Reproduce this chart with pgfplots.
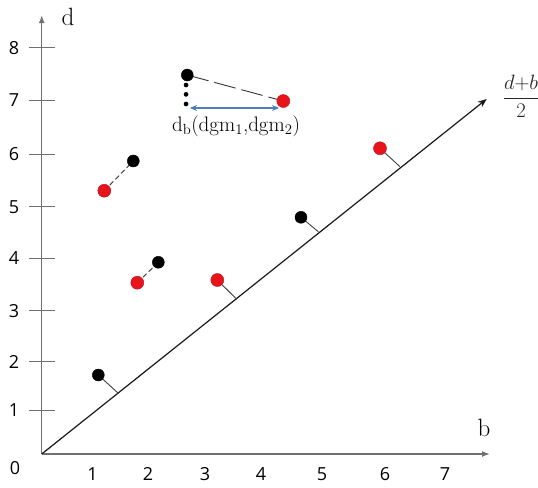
\documentclass[border=0pt]{standalone}
\usepackage{fontspec}
\usepackage{pgfplots}
\pgfplotsset{compat=1.18}
\usetikzlibrary{arrows.meta}
\newfontfamily\tickfont{Open Sans}
\definecolor{axisgray}{HTML}{707070}
\definecolor{ptred}{HTML}{E8141B}
\definecolor{arrblue}{HTML}{4F7FB8}
\begin{document}
\begin{tikzpicture}
\begin{axis}[
  x=57pt, y=52pt,
  xmin=0, xmax=7.865, ymin=0, ymax=8.44,
  axis lines=left,
  clip=false,
  axis line style={draw=axisgray, line width=1.4pt, -{Latex[length=8pt,width=6pt]}},
  xtick={0.891,1.865,2.865,3.847,4.918,6.023,7.075},
  xticklabels={1,2,3,4,5,6,7},
  ytick={0.846,1.775,2.756,3.769,4.756,5.769,6.808,7.813},
  yticklabels={1,2,3,4,5,6,7,8},
  xtick style={draw=none},
  ytick style={draw=axisgray, line width=0.9pt},
  tick align=center,
  major tick length=26pt,
  xticklabel style={font=\tickfont\fontsize{18}{20}\selectfont, text=black, anchor=north, yshift=3pt},
  yticklabel style={font=\tickfont\fontsize{18}{20}\selectfont, text=black, anchor=east, xshift=-6pt},
]
% diagonal
\addplot[black!90, line width=1.2pt, -{Stealth[length=9pt,width=7pt]}] coordinates {(0,0) (7.807,6.827)};
% perpendicular feet
\addplot[black!75, line width=0.9pt] coordinates {(0.993,1.519) (1.344,1.167)};
\addplot[black!75, line width=0.9pt] coordinates {(3.081,3.346) (3.421,2.975)};
\addplot[black!75, line width=0.9pt] coordinates {(4.549,4.552) (4.853,4.275)};
\addplot[black!75, line width=0.9pt] coordinates {(5.935,5.879) (6.286,5.525)};
% dashed matchings
\addplot[black!80, line width=0.9pt, dash pattern=on 5pt off 3pt] coordinates {(1.098,5.063) (1.607,5.635)};
\addplot[black!80, line width=0.9pt, dash pattern=on 5pt off 3pt] coordinates {(1.677,3.294) (2.046,3.687)};
\addplot[black!80, line width=0.9pt, dash pattern=on 22pt off 6pt] coordinates {(2.554,7.288) (4.239,6.788)};
% bottleneck arrow
\addplot[arrblue, line width=1.1pt, {Stealth[length=7pt,width=6pt]}-{Stealth[length=7pt,width=6pt]}] coordinates {(2.60,6.654) (4.163,6.654)};
% small dots
\addplot[only marks, mark=*, mark size=2.1pt, black] coordinates {(2.532,7.096) (2.532,6.917) (2.532,6.731)};
% black points
\addplot[only marks, mark=*, mark size=6pt, black] coordinates {(0.993,1.519) (1.607,5.635) (2.046,3.687) (4.549,4.552) (2.554,7.288)};
% red points
\addplot[only marks, mark=*, mark size=6.5pt, draw=ptred!80!black, fill=ptred] coordinates {(1.098,5.063) (1.677,3.294) (3.081,3.346) (5.935,5.879) (4.239,6.788)};
% labels
\node[font=\fontsize{21}{24}\selectfont, inner sep=0pt] at (axis cs:3.409,6.30) {d\textsubscript{b}(dgm\textsubscript{1},dgm\textsubscript{2})};
\node[font=\fontsize{25}{28}\selectfont] at (axis cs:0.462,8.404) {d};
\node[font=\fontsize{25}{28}\selectfont] at (axis cs:7.76,0.50) {b};
\node[font=\fontsize{20}{22}\selectfont, text=black!85] at (axis cs:8.41,6.88) {$\displaystyle\frac{d{+}b}{2}$};
\node[font=\tickfont\fontsize{18}{20}\selectfont, text=black] at (axis cs:-0.47,-0.27) {0};
\coordinate (bl) at (axis cs:-0.732,-0.635);
\coordinate (tr) at (axis cs:8.707,8.731);
\end{axis}
\pgfresetboundingbox
\path (bl) rectangle (tr);
\end{tikzpicture}
\end{document}
